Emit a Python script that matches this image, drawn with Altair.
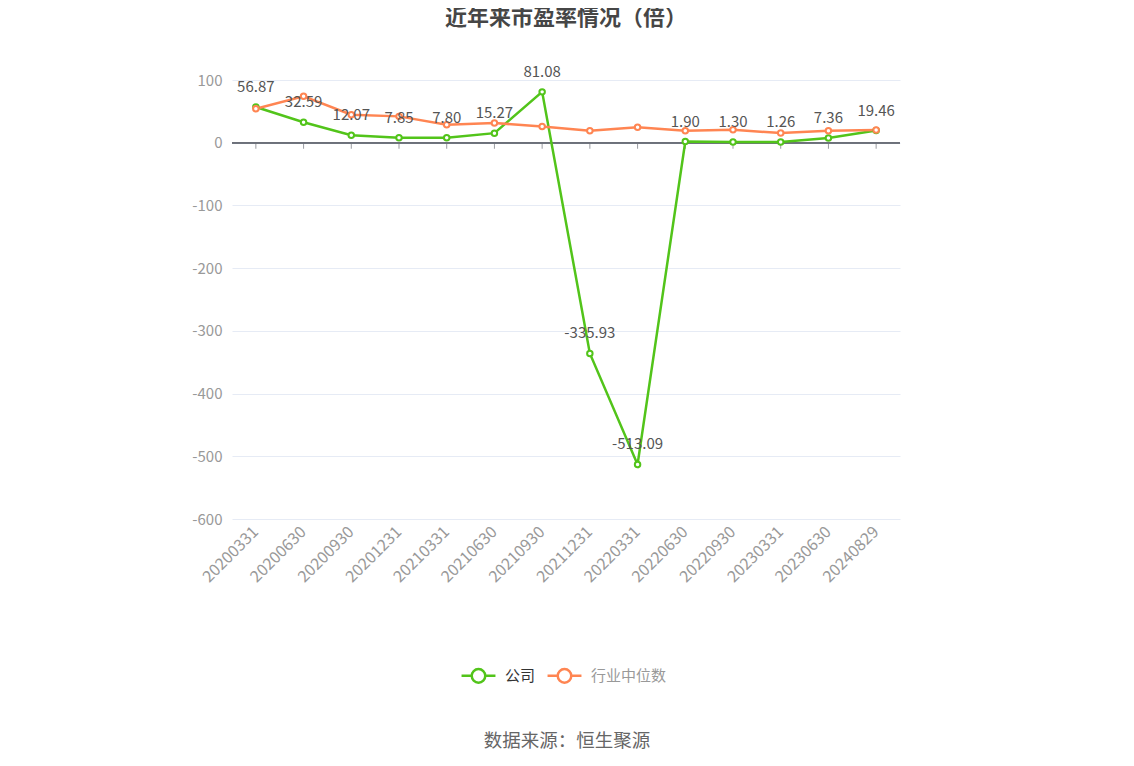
import altair as alt
import pandas as pd

dates = ["20200331", "20200630", "20200930", "20201231", "20210331", "20210630",
         "20210930", "20211231", "20220331", "20220630", "20220930", "20230331",
         "20230630", "20240829"]
company = [56.87, 32.59, 12.07, 7.85, 7.80, 15.27, 81.08, -335.93, -513.09,
           1.90, 1.30, 1.26, 7.36, 19.46]
industry = [54.2, 74.0, 44.6, 42.0, 28.7, 31.4, 26.0, 19.0, 24.5, 19.0, 20.7,
            15.4, 19.0, 20.2]
series_names = ["公司", "行业中位数"]
colors = ["#52C41A", "#FF8552"]
title_text = "近年来市盈率情况（倍）"
source_text = "数据来源：恒生聚源"

rows = []
for d, c, i in zip(dates, company, industry):
    rows.append({"date": d, "series": series_names[0], "value": c})
    rows.append({"date": d, "series": series_names[1], "value": i})
df = pd.DataFrame(rows)
df_c = df[df.series == series_names[0]].copy()
df_c["label"] = df_c["value"].map(lambda v: f"{v:.2f}")
df_i = df[df.series == series_names[1]]
df_dates = pd.DataFrame({"date": dates})

FONT = "Noto Sans CJK SC"
W, H = 668, 439
xscale = alt.Scale(paddingInner=0, paddingOuter=0)
yscale = alt.Scale(domain=[-600, 100], nice=False, zero=False)

x_axis = alt.Axis(labelAngle=-45, labelAlign="right", labelBaseline="middle",
                  labelColor="#999999", labelFontSize=16, labelFont=FONT,
                  domain=False, ticks=False, labelPadding=10, grid=False)
x_enc = alt.X("date:N", sort=dates, title=None, scale=xscale, axis=x_axis)
y_enc = alt.Y("value:Q", title=None, scale=yscale,
              axis=alt.Axis(values=[100, 0, -100, -200, -300, -400, -500, -600],
                            labelExpr="datum.value < 0 ? '-' + abs(datum.value) : '' + datum.value",
                            labelColor="#999999", labelFontSize=15, labelFont=FONT,
                            domain=False, ticks=False, labelPadding=10,
                            gridColor="#E6EBF5", gridWidth=1))

color_enc = alt.Color("series:N", sort=series_names,
                      scale=alt.Scale(domain=series_names, range=colors),
                      legend=alt.Legend(
                          title=None, orient="none", direction="horizontal",
                          legendX=228, legendY=577,
                          symbolType="M-1,0L-0.4,0M0.4,0L1,0M0.4,0A0.4,0.4,0,1,1,-0.4,0A0.4,0.4,0,1,1,0.4,0Z",
                          symbolSize=1150, symbolStrokeWidth=2.5,
                          symbolFillColor="white",
                          symbolStrokeColor={"expr": "datum.value === '行业中位数' ? '#FFBCA4' : '#52C41A'"},
                          labelFontSize=15, labelFont=FONT,
                          labelColor={"expr": "datum.value === '行业中位数' ? '#999999' : '#333333'"},
                          symbolOpacity=1, columnPadding=6, labelOffset=8))

zero_rule = alt.Chart(df_dates).mark_rule(color="#6E7079", strokeWidth=1).encode(
    y=alt.datum(0, type="quantitative", scale=yscale),
)
zero_ticks = alt.Chart(df_dates).mark_tick(orient="vertical", color="#6E7079",
                                           size=6, thickness=1, yOffset=3).encode(
    x=alt.X("date:N", sort=dates, title=None, scale=xscale, axis=x_axis),
    y=alt.datum(0, type="quantitative"),
)

line_c = alt.Chart(df_c).mark_line(strokeWidth=2.5, color=colors[0]).encode(
    x=alt.X("date:N", sort=dates), y="value:Q")
pts_c = alt.Chart(df_c).mark_point(filled=True, fill="white", stroke=colors[0],
                                   strokeWidth=2, size=30, opacity=1).encode(
    x=alt.X("date:N", sort=dates), y="value:Q")
line_i = alt.Chart(df_i).mark_line(strokeWidth=2.5, color=colors[1]).encode(
    x=alt.X("date:N", sort=dates), y="value:Q")
pts_i = alt.Chart(df_i).mark_point(filled=True, fill="white", stroke=colors[1],
                                   strokeWidth=2, size=30, opacity=1).encode(
    x=alt.X("date:N", sort=dates), y="value:Q")

# invisible layer carrying legend and axes
legend_layer = alt.Chart(df).mark_line(opacity=0).encode(x=x_enc, y=y_enc, color=color_enc)

labels = alt.Chart(df_c).mark_text(fontSize=15, font=FONT, color="#555555",
                                   dy=-20, baseline="middle").encode(
    x=alt.X("date:N", sort=dates), y="value:Q", text="label:N")

source = alt.Chart(df_dates.head(1)).mark_text(
    fontSize=18.5, font=FONT, color="#666666", baseline="middle", align="center"
).encode(x=alt.value(W / 2 + 1), y=alt.value(661), text=alt.datum(source_text))

chart = alt.layer(
    legend_layer, zero_rule, zero_ticks, line_c, line_i, pts_c, pts_i, labels, source
).properties(
    width=W, height=H,
    background="white",
    title=alt.TitleParams(title_text, fontSize=22, font=FONT, fontWeight="bold",
                          color="#464646", anchor="middle", offset=35),
    padding={"left": 224, "top": 72, "right": 226, "bottom": 240},
    autosize=alt.AutoSizeParams(type="none"),
).configure_view(strokeWidth=0, stroke="transparent")

chart.save("out.html", embed_options={"renderer": "svg", "actions": False})
